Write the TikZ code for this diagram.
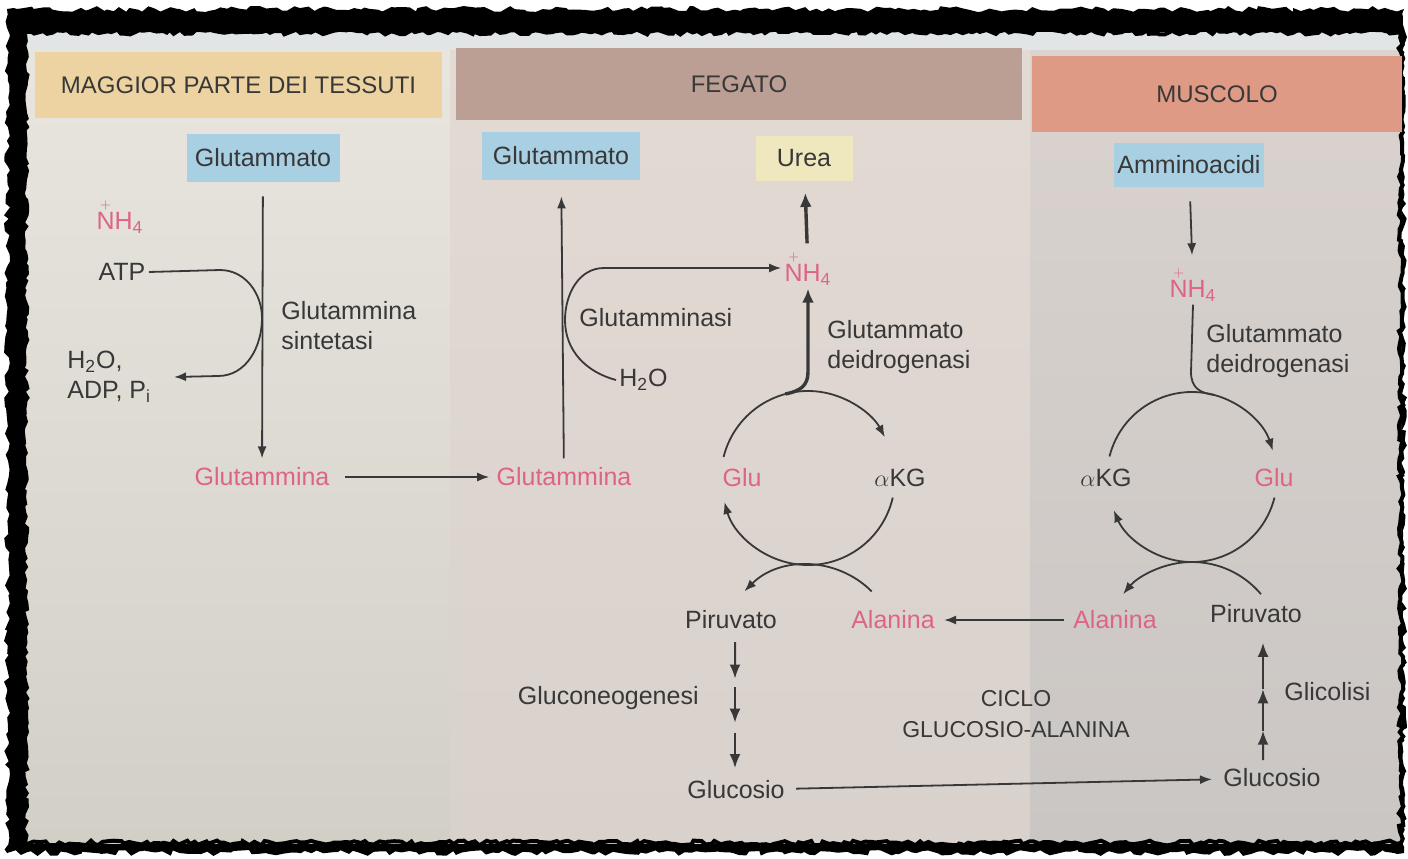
\documentclass[tikz,border=0pt]{standalone}
\usepackage{fontspec}
\setmainfont{Liberation Sans}
\usetikzlibrary{arrows.meta,calc,decorations.pathmorphing}
\definecolor{ink}{HTML}{383838}
\definecolor{pinkc}{HTML}{DD6583}
\definecolor{hdrL}{HTML}{EDD3A2}
\definecolor{hdrM}{HTML}{BB9F95}
\definecolor{hdrR}{HTML}{DE9A84}
\definecolor{blueb}{HTML}{A9CFE2}
\definecolor{yelb}{HTML}{EFE7BD}
\definecolor{pgLt}{HTML}{E9E6E0}
\definecolor{pgLb}{HTML}{D2D0C6}
\definecolor{pgMt}{HTML}{E4DAD4}
\definecolor{pgMb}{HTML}{D8D1CC}
\definecolor{pgRt}{HTML}{DAD3CF}
\definecolor{pgRb}{HTML}{CAC6C3}
\definecolor{strip}{HTML}{E2E5E5}
\newcommand{\NHq}{$\stackrel{\scriptscriptstyle+}{\hbox{N}}$H\textsubscript{4}}
\begin{document}
\begin{tikzpicture}[x=0.5pt,y=-0.5pt,
  font=\fontsize{12.5}{15}\selectfont,
  tx/.style={text=ink, inner sep=1.5pt},
  pk/.style={text=pinkc, inner sep=1.5pt},
  hdr/.style={text=ink, inner sep=0pt, font=\fontsize{12}{14}\selectfont},
  bbox/.style={fill=blueb, text=ink, inner sep=0pt},
  ybox/.style={fill=yelb, text=ink, inner sep=0pt},
  ln/.style={draw=ink, line width=0.9pt},
  arr/.style={draw=ink, line width=0.9pt, -{Latex[length=6pt,width=4.5pt]}},
  segarr/.style={draw=ink, line width=1pt, -{Latex[length=7pt,width=5.5pt]}},
  thickarr/.style={draw=ink, line width=1.7pt, -{Latex[length=7pt,width=6pt]}}]
\useasboundingbox (0,0) rectangle (1408,858);
\fill[white] (0,0) rectangle (1408,858);
\pgfmathsetseed{7}
\fill[black, decorate, decoration={random steps, segment length=3pt, amplitude=1.5pt}] (7,9) rectangle (1404,853);
% page
\shade[top color=pgLt, bottom color=pgLb] (25,32) rectangle (450,843);
\shade[top color=pgMt, bottom color=pgMb] (450,32) rectangle (1030,843);
\shade[top color=pgRt, bottom color=pgRb] (1030,32) rectangle (1401,843);
\fill[strip] (25,32) rectangle (1401,50);
\draw[black, line width=2pt, decorate, decoration={random steps, segment length=2.5pt, amplitude=1.2pt}] (25,32) rectangle (1401,843);
% headers
\node[hdr, fill=hdrL, minimum width=203.5pt, minimum height=33pt] (hL) at (238.5,85) {MAGGIOR PARTE DEI TESSUTI};
\node[hdr, fill=hdrM, minimum width=283pt, minimum height=36pt] (hM) at (739,84) {FEGATO};
\node[hdr, fill=hdrR, minimum width=185pt, minimum height=38pt] (hR) at (1217,94) {MUSCOLO};
% boxes
\node[bbox, minimum width=76.5pt, minimum height=24pt] (gluL) at (263,158) {Glutammato};
\node[bbox, minimum width=79pt, minimum height=24pt] (gluM) at (561,156) {Glutammato};
\node[ybox, minimum width=48.5pt, minimum height=22.5pt] (urea) at (804,158) {Urea};
\node[bbox, minimum width=75pt, minimum height=22pt] (amm) at (1189,165) {Amminoacidi};
% left column
\node[pk] (nh4L) at (120,216) {\NHq};
\node[tx] (atp) at (122,272) {ATP};
\node[tx, align=left, anchor=west] (h2oL) at (64,377) {H\textsubscript{2}O,\\ADP, P\textsubscript{i}};
\coordinate (h2oTip) at (174,377);
\node[tx, align=left, anchor=west] (enzL) at (278,326) {Glutammina\\sintetasi};
\node[pk] (glnL) at (262,477) {Glutammina};
% middle column
\node[pk] (glnM) at (564,477) {Glutammina};
\node[tx, anchor=west] (enzM) at (576,318) {Glutamminasi};
\node[tx, anchor=west] (h2oM) at (616,380) {H\textsubscript{2}O};
\node[pk] (nh4M) at (808,268) {\NHq};
\node[tx, align=left, anchor=west] (gdhL) at (824,347) {Glutammato\\deidrogenasi};
\node[pk] (gluCL) at (742,478) {Glu};
\node[tx] (akgL) at (900,478) {$\alpha$KG};
\node[tx] (piruL) at (731,620) {Piruvato};
\node[pk] (alaL) at (893,620) {Alanina};
\node[tx, anchor=east] (gng) at (702,698) {Gluconeogenesi};
\node[tx] (glucL) at (736,790) {Glucosio};
\node[tx, align=center, font=\fontsize{11.5}{15.5}\selectfont] (ciclo) at (1016,714) {CICLO\\GLUCOSIO-ALANINA};
\coordinate (lT) at (735,642);
\coordinate (lB) at (735,768);
% right column
\node[pk] (nh4R) at (1193,284) {\NHq};
\node[tx, align=left, anchor=west] (gdhR) at (1203,351) {Glutammato\\deidrogenasi};
\node[tx] (akgR) at (1106,478) {$\alpha$KG};
\node[pk] (gluCR) at (1274,478) {Glu};
\node[pk] (alaR) at (1115,620) {Alanina};
\node[tx] (piruR) at (1256,614) {Piruvato};
\node[tx] (glucR) at (1272,778) {Glucosio};
\node[tx, anchor=west] (glic) at (1281,692) {Glicolisi};
\coordinate (mB) at (1263,760);
\coordinate (mT) at (1263,638);
% connectors left
\draw[arr, shorten <=7pt, shorten >=3pt] (gluL) -- (glnL);
\draw[arr] (atp.east) -- (220,270) to[out=0,in=90] (262,318) to[out=-90,in=0] (218,376) -- (h2oTip);
\draw[arr, shorten <=6pt, shorten >=2pt] (glnL) -- (glnM);
% connectors middle
\draw[arr, shorten <=3pt, shorten >=8pt] (glnM) -- (gluM);
\draw[arr] (h2oM.west) to[out=165,in=-90] (565,320) to[out=90,in=180] (604,268) -- (nh4M.west);
\draw[thickarr, shorten <=2pt, shorten >=6pt] (nh4M) -- (urea);
\coordinate (cL) at (808,478);
\coordinate (xL) at (808,655);
\draw[thickarr] ($(cL)+(-105:87)$) .. controls (800,391) and (808,386) .. (808,372) -- (nh4M.south);
\draw[arr] ($(cL)+(-166:87)$) arc[start angle=-166,end angle=-28,radius=87];
\draw[arr] ($(cL)+(13:87)$) arc[start angle=13,end angle=164,radius=87];
\draw[arr] ($(xL)+(-45:90)$) arc[start angle=-45,end angle=-135,radius=90];
% connectors right
\draw[arr, shorten <=7pt, shorten >=4pt] (amm) -- (nh4R);
\coordinate (cR) at (1192,477);
\coordinate (xR) at (1192,652);
\draw[ln] (nh4R.south) -- (1191,372) .. controls (1191,388) and (1200,393) .. ($(cR)+(-75:85)$);
\draw[arr] ($(cR)+(-166:85)$) arc[start angle=-166,end angle=-18,radius=85];
\draw[arr] ($(cR)+(14:85)$) arc[start angle=14,end angle=157,radius=85];
\draw[arr] ($(xR)+(-40:90)$) arc[start angle=-40,end angle=-140,radius=90];
% bottom
\draw[arr, shorten <=3pt, shorten >=3pt] (alaR) -- (alaL);
\draw[arr, shorten <=4pt, shorten >=4pt] (glucL) -- (glucR);
\foreach \a/\b in {0.0/0.29, 0.36/0.64, 0.72/1.0}
  \draw[segarr] ($(lT)!\a!(lB)$) -- ($(lT)!\b!(lB)$);
\foreach \a/\b in {0.0/0.24, 0.24/0.58, 0.58/0.96}
  \draw[segarr] ($(mB)!\a!(mT)$) -- ($(mB)!\b!(mT)$);
\end{tikzpicture}
\end{document}
